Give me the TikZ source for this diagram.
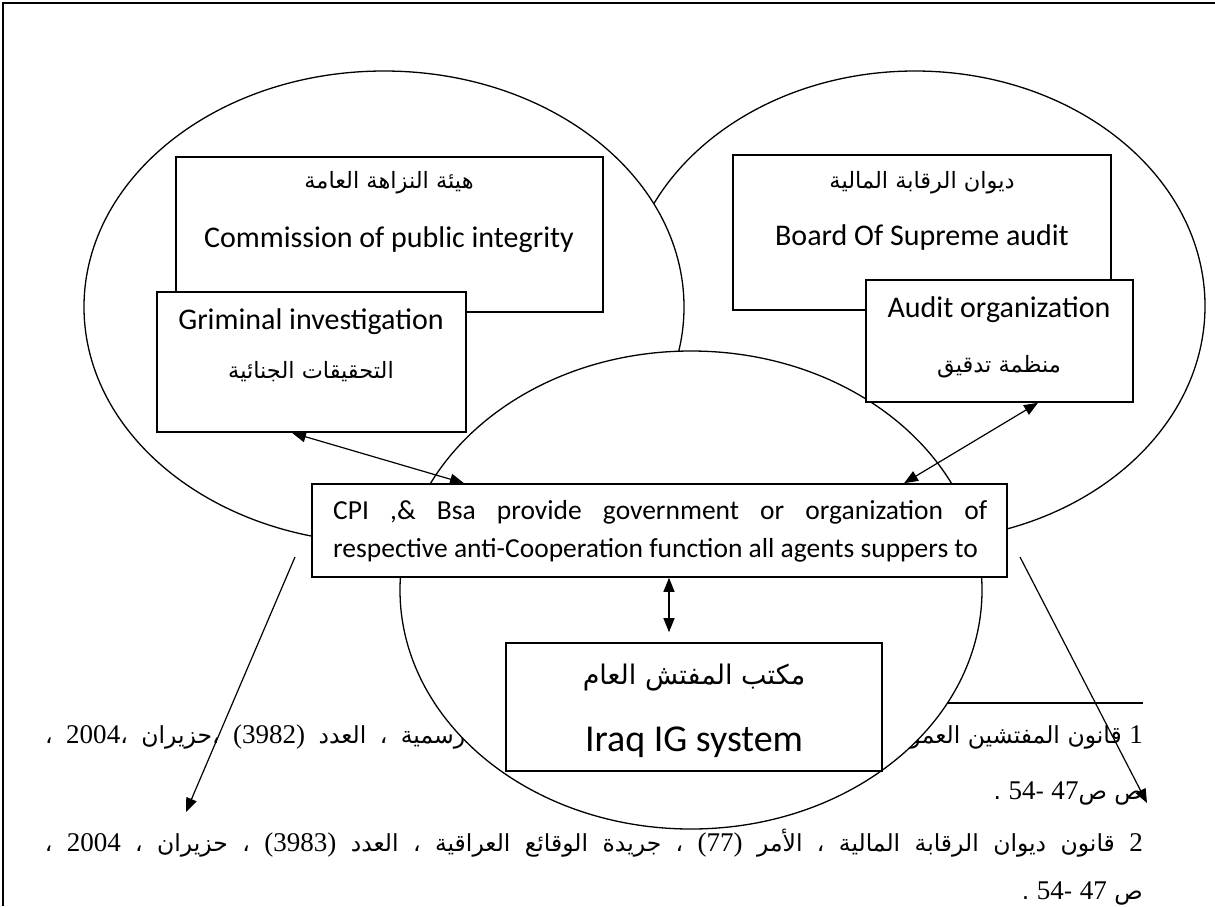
\documentclass[tikz,border=0pt]{standalone}
\usepackage{fontspec}
\setmainfont{Carlito}
\newfontfamily\arabicfont[Script=Arabic]{DejaVu Sans}
\newfontfamily\numfont[Scale=1.15]{Liberation Serif}
\TeXXeTstate=1
\usetikzlibrary{shapes.geometric,arrows.meta}
\tikzstyle{frame}=[line width=1.6pt]
\tikzstyle{oval}=[ellipse, draw, fill=white, line width=1.3pt, inner sep=0pt]
\tikzstyle{box}=[rectangle, draw, fill=white, line width=1.6pt, inner sep=0pt]
\tikzstyle{txt}=[inner sep=0pt, font=\fontsize{30}{36}\selectfont]
\tikzstyle{jointtxt}=[inner sep=0pt, font=\fontsize{27.5}{33}\selectfont]
\tikzstyle{artxt}=[inner sep=0pt, font=\fontsize{22.5}{27}\selectfont\arabicfont]
\tikzstyle{bigtxt}=[inner sep=0pt, font=\fontsize{38}{44}\selectfont]
\tikzstyle{bigartxt}=[inner sep=0pt, font=\fontsize{27}{32}\selectfont\arabicfont]
\tikzstyle{fntxt}=[inner sep=0pt, font=\fontsize{23.5}{28}\selectfont\arabicfont]
\tikzstyle{link}=[line width=1.2pt, >={Triangle[length=14pt,width=11pt]}]

\begin{document}
\begin{tikzpicture}[x=1pt, y=-1pt]
	\useasboundingbox (0,0) rectangle (1215,906);
	% page frame
	\coordinate (fTL) at (3,3);
	\coordinate (fTR) at (1215,3);
	\coordinate (fBL) at (3,906);
	\draw[frame] (fTR) -- (fTL) -- (fBL);

	%%% Footnotes (the middle ellipse hides part of them)
	\coordinate (ruleL) at (860,703);
	\coordinate (ruleR) at (1143,703);
	\draw[line width=1.2pt] (ruleL) -- (ruleR);
	\node[fntxt, anchor=east] (fnOneA) at (1143,737) {\beginR{\numfont 1} قانون المفتشين العمو\endR};
	\node[fntxt, anchor=west] (fnOneB) at (45,737) {\hbox to 420pt{\beginR رسمية ، العدد {\numfont\beginL(3982)\endL} ،حزيران ،{\numfont\beginL2004\endL} ،\endR}};
	\node[fntxt, anchor=east] (fnOneC) at (1143,793) {\beginR ص ص{\numfont\beginL47\endL} -{\numfont\beginL54\endL} .\endR};
	\node[fntxt, anchor=east] (fnTwoA) at (1143,843) {\hbox to 1098pt{\beginR{\numfont 2} قانون ديوان الرقابة المالية ، الأمر {\numfont\beginL(77)\endL} ، جريدة الوقائع العراقية ، العدد {\numfont\beginL(3983)\endL} ، حزيران ، {\numfont\beginL2004\endL} ،\endR}};
	\node[fntxt, anchor=east] (fnTwoB) at (1143,893) {\beginR ص {\numfont\beginL47\endL} -{\numfont\beginL54\endL} .\endR};

	%%% Ellipses
	\node[oval, minimum width=580pt, minimum height=470pt] (auditOval) at (915,306) {};
	\node[oval, minimum width=600pt, minimum height=472pt] (integrityOval) at (384,307) {};
	\node[oval, minimum width=582pt, minimum height=478pt] (igOval) at (691,590) {};

	%%% Left part
	\node[box, minimum width=427pt, minimum height=155pt] (integrityBox) at (389.5,234.5) {};
	\node[box, minimum width=309pt, minimum height=140pt] (crimBox) at (311.5,362) {};
	\node[artxt] (integrityAr) at (389,183) {\beginR هيئة النزاهة العامة\endR};
	\node[txt]   (integrityEn) at (389,240) {Commission of public integrity};
	\node[txt]   (crimEn) at (311,322) {Griminal investigation};
	\node[artxt] (crimAr) at (311,372) {\beginR التحقيقات الجنائية\endR};

	%%% Right part
	\node[box, minimum width=378pt, minimum height=155pt] (boardBox) at (922,232.5) {};
	\node[box, minimum width=267pt, minimum height=122pt] (auditBox) at (999.5,341) {};
	\node[artxt] (boardAr) at (922,183) {\beginR ديوان الرقابة المالية\endR};
	\node[txt]   (boardEn) at (922,237) {Board Of Supreme audit};
	\node[txt]   (auditEn) at (999,310) {Audit organization};
	\node[artxt] (auditAr) at (999,367) {\beginR منظمة تدقيق\endR};

	%%% Center
	\node[box, minimum width=695pt, minimum height=93pt] (jointBox) at (659.5,530.5) {};
	\node[jointtxt, anchor=west] (jointA) at (333,512) {\hbox to 654pt{CPI ,\& Bsa provide government or organization of}};
	\node[jointtxt, anchor=west] (jointB) at (333,550) {respective anti-Cooperation function all agents suppers to};
	\node[box, minimum width=376pt, minimum height=128pt] (igBox) at (694,707) {};
	\node[bigartxt] (igAr) at (694,678) {\beginR مكتب المفتش العام\endR};
	\node[bigtxt]   (igEn) at (694,742) {Iraq IG system};

	%%% Arrows
	\draw[link, <->] ([xshift=-19.5pt]crimBox.south) -- ([xshift=-195.5pt]jointBox.north);
	\draw[link, <->] ([xshift=38.5pt]auditBox.south) -- ([xshift=244.5pt]jointBox.north);
	\draw[link, <->, shorten >=10pt] ([xshift=9.5pt]jointBox.south) -- ([xshift=-25pt]igBox.north);
	\coordinate (leftFrom) at (295,557);
	\coordinate (leftTo) at (186,812);
	\coordinate (rightFrom) at (1020,557);
	\coordinate (rightTo) at (1147,803);
	\draw[link, ->] (leftFrom) -- (leftTo);
	\draw[link, ->] (rightFrom) -- (rightTo);
\end{tikzpicture}
\end{document}
